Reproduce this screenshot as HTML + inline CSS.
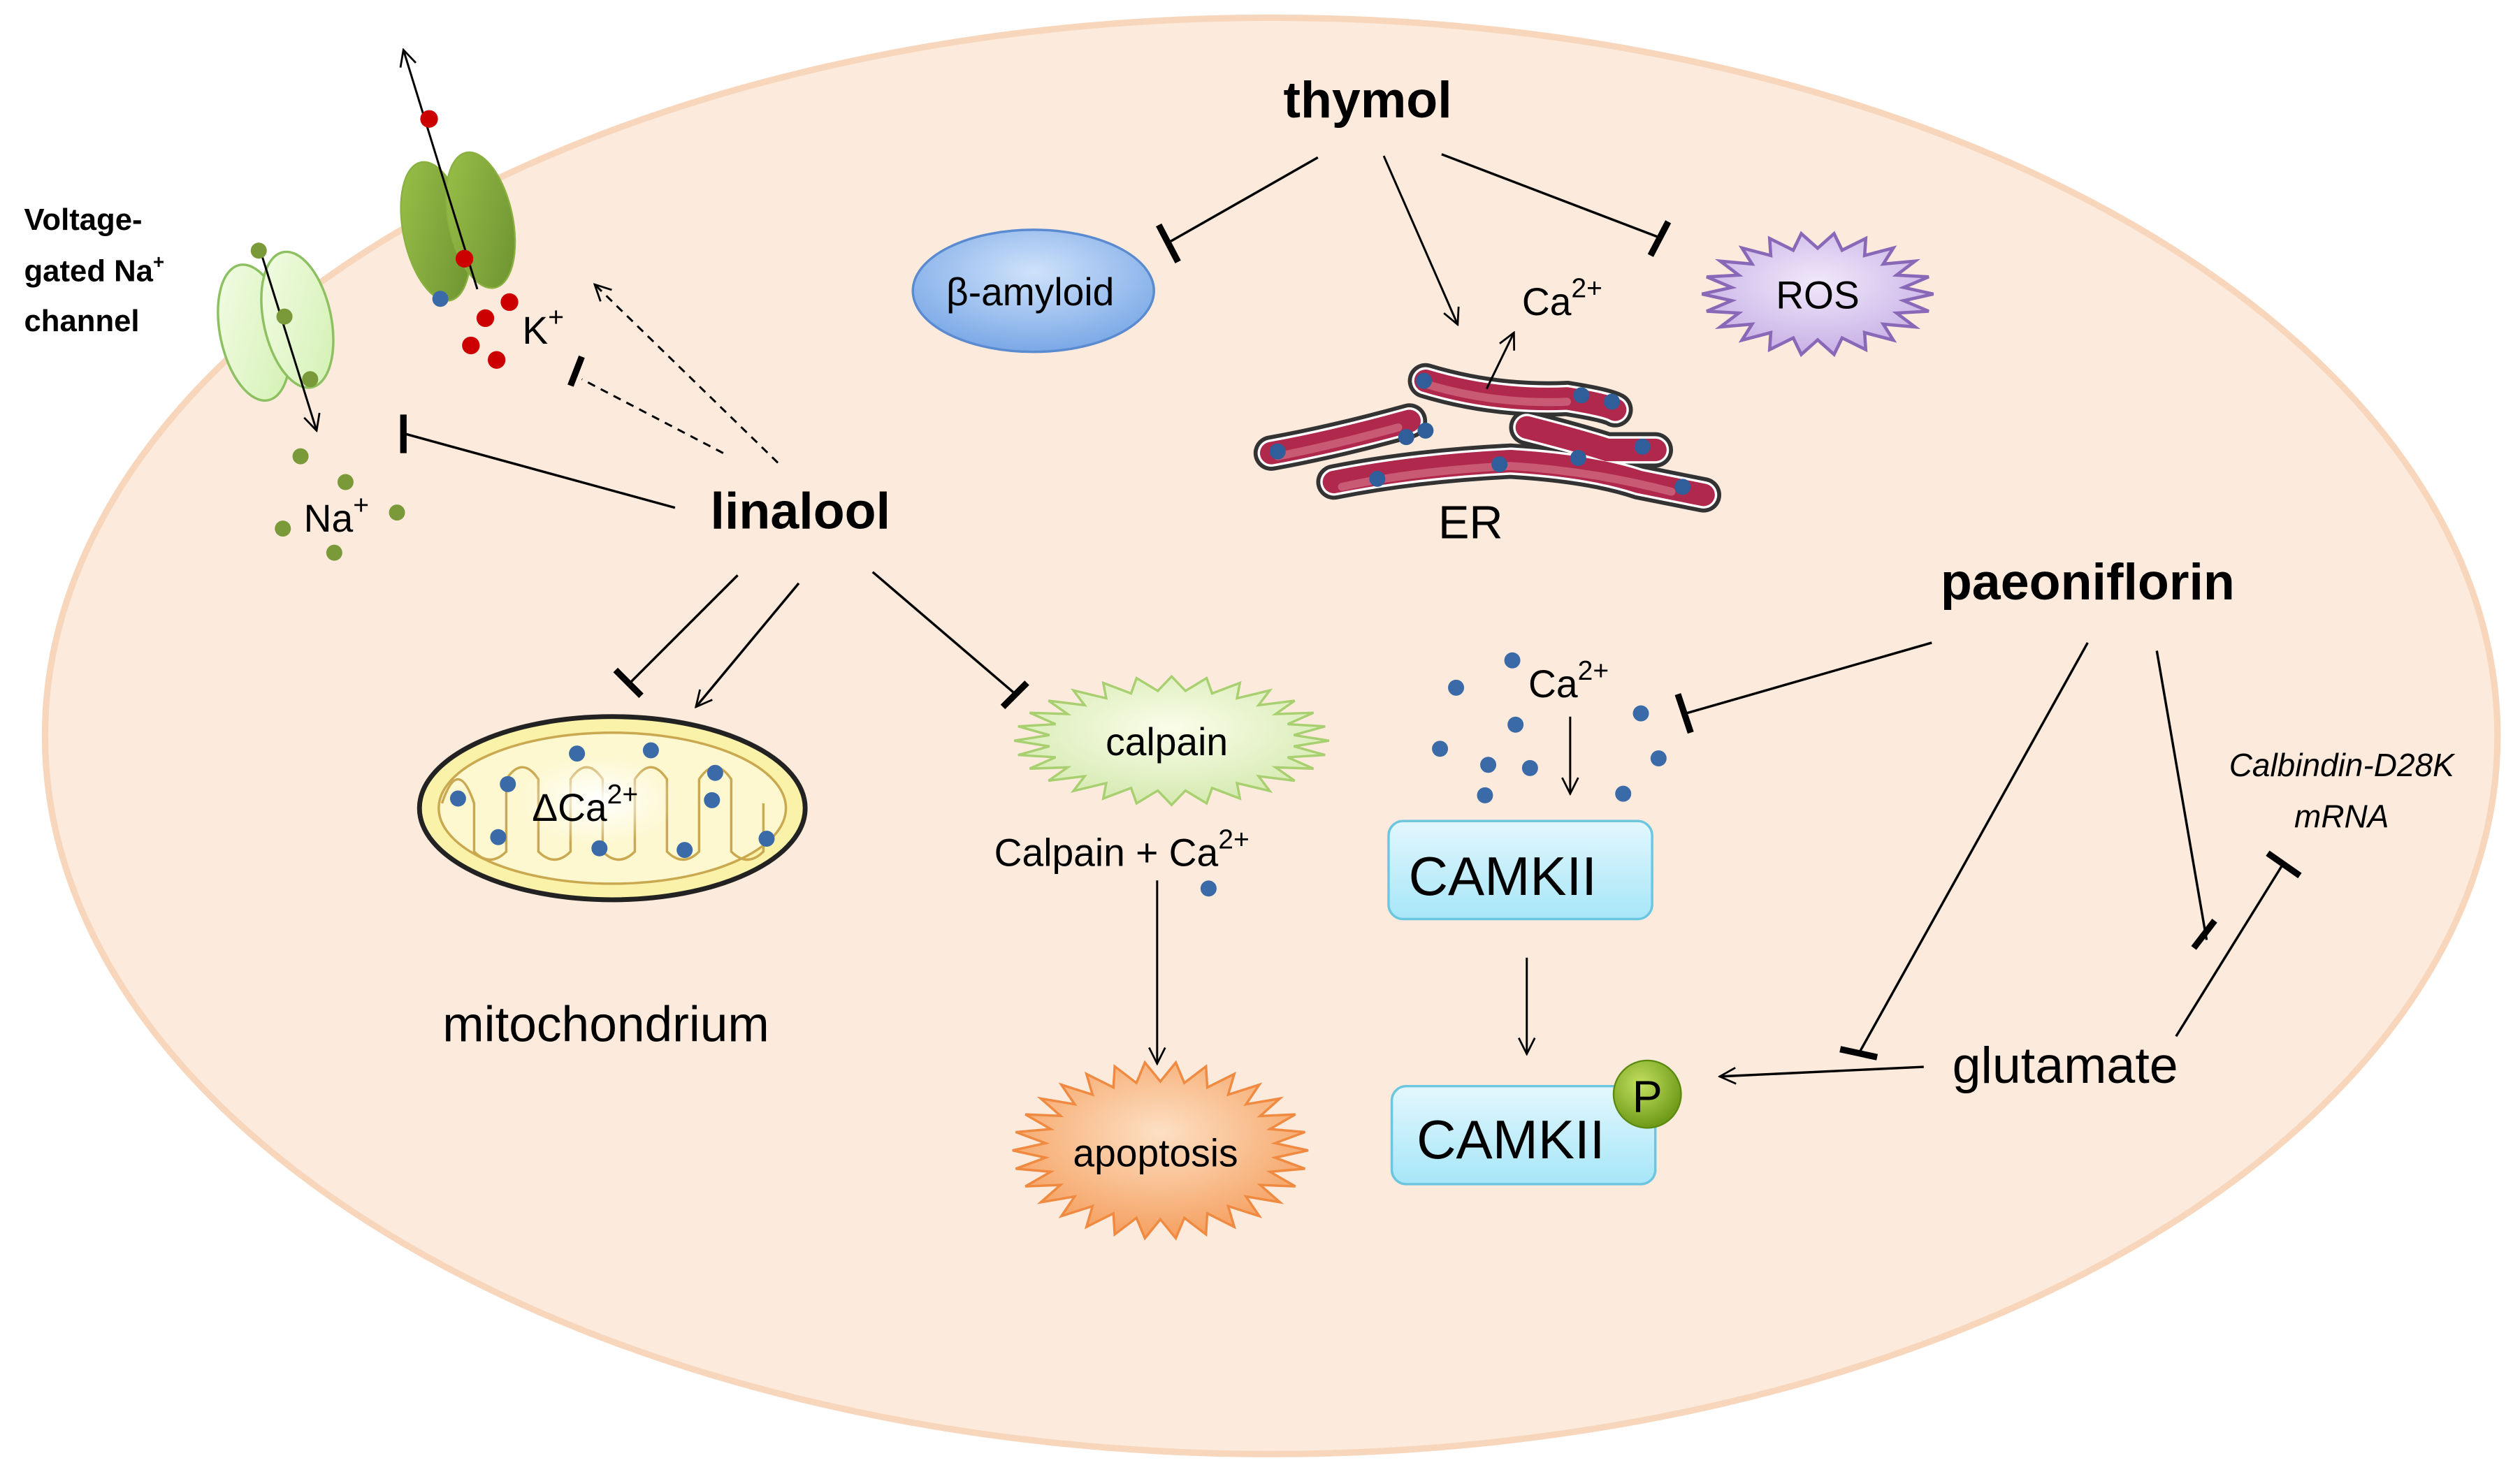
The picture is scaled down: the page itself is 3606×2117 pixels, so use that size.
<!DOCTYPE html>
<html><head><meta charset="utf-8">
<style>
html,body{margin:0;padding:0;background:#fff;}
svg{display:block;}
text{font-family:"Liberation Sans",sans-serif;fill:#000;}
</style></head>
<body>
<svg id="s" width="3606" height="2117" viewBox="0 0 1568 920.5" xmlns="http://www.w3.org/2000/svg">
<defs>
<radialGradient id="beta" cx="50%" cy="35%" r="65%"><stop offset="0" stop-color="#cfe2fb"/><stop offset="1" stop-color="#7aa8e6"/></radialGradient>
<linearGradient id="cam" x1="0" y1="0" x2="0" y2="1"><stop offset="0" stop-color="#e3f7fd"/><stop offset="1" stop-color="#a6e6f8"/></linearGradient>
<radialGradient id="pg" cx="40%" cy="35%" r="65%"><stop offset="0" stop-color="#c4e060"/><stop offset="1" stop-color="#6e9a18"/></radialGradient>
<radialGradient id="ros" cx="50%" cy="40%" r="60%"><stop offset="0" stop-color="#f0e8fa"/><stop offset="1" stop-color="#c8b0e6"/></radialGradient>
<radialGradient id="calp" cx="50%" cy="40%" r="60%"><stop offset="0" stop-color="#fbfde9"/><stop offset="1" stop-color="#d4eab0"/></radialGradient>
<radialGradient id="apo" cx="50%" cy="40%" r="60%"><stop offset="0" stop-color="#fde0c4"/><stop offset="1" stop-color="#f5a060"/></radialGradient>
<radialGradient id="glow" cx="50%" cy="50%" r="50%"><stop offset="0" stop-color="#fff" stop-opacity="1"/><stop offset="1" stop-color="#fff" stop-opacity="0"/></radialGradient>
<linearGradient id="kg" x1="0" y1="0" x2="1" y2="1"><stop offset="0" stop-color="#9cc24a"/><stop offset="1" stop-color="#6a9030"/></linearGradient>
<linearGradient id="nag" x1="0" y1="0" x2="1" y2="1"><stop offset="0" stop-color="#f4fde8"/><stop offset="1" stop-color="#d2f0b0"/></linearGradient>
<marker id="ar" viewBox="0 0 12 12" refX="11" refY="6" markerWidth="12" markerHeight="12" markerUnits="userSpaceOnUse" orient="auto"><path d="M1,1 L11,6 L1,11" fill="none" stroke="#000" stroke-width="1.2"/></marker>
</defs>

<ellipse cx="791" cy="458" rx="763" ry="447" fill="#fcebdd" stroke="#f8d6bc" stroke-width="4"/>

<!-- K channel -->
<ellipse cx="271" cy="144" rx="20" ry="44" transform="rotate(-12 271 144)" fill="url(#kg)" stroke="#8ab040" stroke-width="1"/>
<ellipse cx="299" cy="137" rx="20" ry="43" transform="rotate(-12 299 137)" fill="url(#kg)" stroke="#8ab040" stroke-width="1"/>
<line x1="297" y1="180" x2="251" y2="31" stroke="#000" stroke-width="1.3" marker-end="url(#ar)"/>
<circle cx="267" cy="74" r="5.5" fill="#cc0000"/>
<circle cx="289" cy="161" r="5.5" fill="#cc0000"/>
<circle cx="274" cy="186" r="5" fill="#3a6aa8"/>
<circle cx="317" cy="188" r="5.5" fill="#cc0000"/>
<circle cx="302" cy="198" r="5.5" fill="#cc0000"/>
<circle cx="293" cy="215" r="5.5" fill="#cc0000"/>
<circle cx="309" cy="224" r="5.5" fill="#cc0000"/>
<text x="325" y="214" font-size="24">K<tspan font-size="17" dy="-11">+</tspan></text>

<!-- Na channel -->
<ellipse cx="158" cy="207" rx="21" ry="43" transform="rotate(-12 158 207)" fill="url(#nag)" stroke="#8cc060" stroke-width="1.5"/>
<ellipse cx="185" cy="199" rx="21" ry="43" transform="rotate(-12 185 199)" fill="url(#nag)" stroke="#8cc060" stroke-width="1.5"/>
<line x1="162" y1="156" x2="197" y2="268" stroke="#000" stroke-width="1.3" marker-end="url(#ar)"/>
<g fill="#7a9a3a"><circle cx="161" cy="156" r="5"/><circle cx="177" cy="197" r="5"/><circle cx="193" cy="236" r="5"/>
<circle cx="187" cy="284" r="5"/><circle cx="215" cy="300" r="5"/><circle cx="247" cy="319" r="5"/><circle cx="176" cy="329" r="5"/><circle cx="208" cy="344" r="5"/></g>
<text x="189" y="331" font-size="24">Na<tspan font-size="17" dy="-11">+</tspan></text>

<text font-size="19" font-weight="bold"><tspan x="15" y="143">Voltage-</tspan><tspan x="15" y="175">gated Na<tspan font-size="12" dy="-8">+</tspan></tspan><tspan x="15" y="206">channel</tspan></text>

<!-- linalool -->
<text x="498" y="329" font-size="32" font-weight="bold" text-anchor="middle">linalool</text>
<line x1="420" y1="316" x2="252" y2="270" stroke="#000" stroke-width="1.5"/>
<line x1="251" y1="258" x2="251" y2="282" stroke="#000" stroke-width="4"/>
<line x1="450" y1="282" x2="362" y2="236" stroke="#000" stroke-width="1.3" stroke-dasharray="5,4"/>
<line x1="362" y1="222" x2="355" y2="240" stroke="#000" stroke-width="4"/>
<line x1="484" y1="288" x2="370" y2="177" stroke="#000" stroke-width="1.3" stroke-dasharray="5,4" marker-end="url(#ar)"/>
<line x1="459" y1="358" x2="392" y2="425" stroke="#000" stroke-width="1.5"/>
<line x1="383" y1="417" x2="399" y2="433" stroke="#000" stroke-width="4"/>
<line x1="497" y1="363" x2="433" y2="440" stroke="#000" stroke-width="1.5" marker-end="url(#ar)"/>
<line x1="543" y1="356" x2="633" y2="433" stroke="#000" stroke-width="1.5"/>
<line x1="624" y1="440" x2="639" y2="425" stroke="#000" stroke-width="4"/>

<!-- mitochondrion -->
<ellipse cx="381" cy="503" rx="120" ry="57" fill="#faf2a8" stroke="#222" stroke-width="3"/>
<ellipse cx="381" cy="503" rx="108" ry="47" fill="#fdf8d0" stroke="#caa850" stroke-width="1.5"/>
<path d="M275,500 q10,-30 20,0 v30 q10,10 20,0 v-45 q10,-15 20,0 v45 q10,10 20,0 v-45 q10,-15 20,0 v45 q10,10 20,0 v-45 q10,-15 20,0 v45 q10,10 20,0 v-45 q10,-15 20,0 v45 q10,10 20,0 v-30" fill="none" stroke="#caa850" stroke-width="1.5"/>
<ellipse cx="372" cy="498" rx="50" ry="28" fill="url(#glow)"/>
<g fill="#3a6aa8"><circle cx="285" cy="497" r="5"/><circle cx="316" cy="488" r="5"/><circle cx="359" cy="469" r="5"/><circle cx="405" cy="467" r="5"/><circle cx="445" cy="481" r="5"/><circle cx="443" cy="498" r="5"/><circle cx="426" cy="529" r="5"/><circle cx="373" cy="528" r="5"/><circle cx="310" cy="521" r="5"/><circle cx="477" cy="522" r="5"/></g>
<text x="331" y="511" font-size="24">ΔCa<tspan font-size="17" dy="-11">2+</tspan></text>
<text x="377" y="648" font-size="31" text-anchor="middle">mitochondrium</text>

<!-- calpain -->
<polygon id="calpS" fill="url(#calp)" stroke="#a8d070" stroke-width="1.5"/>
<text x="726" y="470" font-size="24" text-anchor="middle">calpain</text>
<text x="698" y="539" font-size="24" text-anchor="middle">Calpain + Ca<tspan font-size="17" dy="-11">2+</tspan></text>
<circle cx="752" cy="553" r="5" fill="#3a6aa8"/>
<line x1="720" y1="548" x2="720" y2="662" stroke="#000" stroke-width="1.3" marker-end="url(#ar)"/>
<polygon id="apoS" fill="url(#apo)" stroke="#f08a40" stroke-width="1.5"/>
<text x="719" y="726" font-size="24" text-anchor="middle">apoptosis</text>

<!-- thymol -->
<text x="851" y="73" font-size="32" font-weight="bold" text-anchor="middle">thymol</text>
<line x1="820" y1="98" x2="727" y2="151" stroke="#000" stroke-width="1.5"/>
<line x1="721" y1="140" x2="733" y2="163" stroke="#000" stroke-width="4"/>
<line x1="861" y1="97" x2="907" y2="202" stroke="#000" stroke-width="1.3" marker-end="url(#ar)"/>
<line x1="897" y1="96" x2="1033" y2="148" stroke="#000" stroke-width="1.5"/>
<line x1="1027" y1="159" x2="1038" y2="138" stroke="#000" stroke-width="4"/>
<ellipse cx="643" cy="181" rx="75" ry="38" fill="url(#beta)" stroke="#5a8ad0" stroke-width="1.5"/>
<text x="641" y="190" font-size="24" text-anchor="middle">β-amyloid</text>
<polygon id="rosS" fill="url(#ros)" stroke="#8a68b8" stroke-width="2"/>
<text x="1131" y="192" font-size="24" text-anchor="middle">ROS</text>
<text x="947" y="196" font-size="24">Ca<tspan font-size="17" dy="-11">2+</tspan></text>

<!-- ER -->
<g fill="none" stroke-linecap="round">
<g stroke="#333" stroke-width="22">
<path d="M887,237 Q930,250 975,248 Q1000,252 1005,255"/>
<path d="M791,282 Q830,275 877,262"/>
<path d="M950,266 Q985,275 1000,280 L1030,280"/>
<path d="M830,300 Q880,290 940,287 Q990,290 1020,300 L1060,308"/>
</g>
<g stroke="#fff" stroke-width="17">
<path d="M887,237 Q930,250 975,248 Q1000,252 1005,255"/>
<path d="M791,282 Q830,275 877,262"/>
<path d="M950,266 Q985,275 1000,280 L1030,280"/>
<path d="M830,300 Q880,290 940,287 Q990,290 1020,300 L1060,308"/>
</g>
<g stroke="#b0284c" stroke-width="14">
<path d="M887,237 Q930,250 975,248 Q1000,252 1005,255"/>
<path d="M791,282 Q830,275 877,262"/>
<path d="M950,266 Q985,275 1000,280 L1030,280"/>
<path d="M830,300 Q880,290 940,287 Q990,290 1020,300 L1060,308"/>
</g>
<g stroke="#c85a74" stroke-width="5">
<path d="M887,239 Q930,252 975,250"/>
<path d="M795,284 Q830,277 870,266"/>
<path d="M835,303 Q880,293 940,290 Q990,293 1040,306"/>
</g>
</g>
<g fill="#2f5e9a"><circle cx="886" cy="237" r="5"/><circle cx="984" cy="246" r="5"/><circle cx="1003" cy="250" r="5"/><circle cx="795" cy="281" r="5"/><circle cx="875" cy="272" r="5"/><circle cx="887" cy="268" r="5"/><circle cx="857" cy="298" r="5"/><circle cx="933" cy="289" r="5"/><circle cx="982" cy="285" r="5"/><circle cx="1022" cy="278" r="5"/><circle cx="1047" cy="303" r="5"/></g>
<line x1="925" y1="242" x2="942" y2="207" stroke="#000" stroke-width="1.3" marker-end="url(#ar)"/>
<text x="915" y="335" font-size="29" text-anchor="middle">ER</text>

<!-- paeoniflorin -->
<text x="1299" y="373" font-size="32" font-weight="bold" text-anchor="middle">paeoniflorin</text>
<line x1="1202" y1="400" x2="1049" y2="444" stroke="#000" stroke-width="1.5"/>
<line x1="1044" y1="432" x2="1052" y2="456" stroke="#000" stroke-width="4"/>
<line x1="1299" y1="400" x2="1157" y2="655" stroke="#000" stroke-width="1.5"/>
<line x1="1145" y1="653" x2="1168" y2="658" stroke="#000" stroke-width="4"/>
<line x1="1342" y1="405" x2="1373" y2="585" stroke="#000" stroke-width="1.5"/>
<line x1="1365" y1="590" x2="1378" y2="573" stroke="#000" stroke-width="4"/>
<line x1="1354" y1="645" x2="1421" y2="537" stroke="#000" stroke-width="1.5"/>
<line x1="1411" y1="531" x2="1431" y2="545" stroke="#000" stroke-width="4"/>
<text font-size="20" font-style="italic" text-anchor="middle"><tspan x="1457" y="483">Calbindin-D28K</tspan><tspan x="1457" y="515">mRNA</tspan></text>
<text x="1285" y="674" font-size="32" text-anchor="middle">glutamate</text>
<line x1="1197" y1="664" x2="1070" y2="670" stroke="#000" stroke-width="1.5" marker-end="url(#ar)"/>

<!-- CAMKII -->
<g fill="#3a6aa8"><circle cx="941" cy="411" r="5"/><circle cx="906" cy="428" r="5"/><circle cx="1021" cy="444" r="5"/><circle cx="896" cy="466" r="5"/><circle cx="943" cy="451" r="5"/><circle cx="926" cy="476" r="5"/><circle cx="952" cy="478" r="5"/><circle cx="1032" cy="472" r="5"/><circle cx="924" cy="495" r="5"/><circle cx="1010" cy="494" r="5"/></g>
<text x="951" y="434" font-size="24">Ca<tspan font-size="17" dy="-11">2+</tspan></text>
<line x1="977" y1="446" x2="977" y2="494" stroke="#000" stroke-width="1.3" marker-end="url(#ar)"/>
<rect x="864" y="511" width="164" height="61" rx="9" fill="url(#cam)" stroke="#6cc6e0" stroke-width="1.5"/>
<text x="935" y="557" font-size="34" text-anchor="middle">CAMKII</text>
<line x1="950" y1="596" x2="950" y2="656" stroke="#000" stroke-width="1.3" marker-end="url(#ar)"/>
<rect x="866" y="676" width="164" height="61" rx="9" fill="url(#cam)" stroke="#6cc6e0" stroke-width="1.5"/>
<text x="940" y="721" font-size="34" text-anchor="middle">CAMKII</text>
<circle cx="1025" cy="681" r="21" fill="url(#pg)" stroke="#5a8a10" stroke-width="1"/>
<text x="1025" y="692" font-size="28" text-anchor="middle">P</text>
</svg>
<script>
function star(id,cx,cy,rx,ry,n,d){var p=[];for(var i=0;i<2*n;i++){var a=Math.PI*i/n;var f=i%2?1-d:1;p.push((cx+rx*f*Math.cos(a)).toFixed(1)+','+(cy+ry*f*Math.sin(a)).toFixed(1));}document.getElementById(id).setAttribute('points',p.join(' '));}
star('calpS',729,461,98,40,28,0.22);
star('apoS',722,716,92,55,30,0.22);
star('rosS',1131,183,72,38,22,0.25);
</script>
</body></html>
